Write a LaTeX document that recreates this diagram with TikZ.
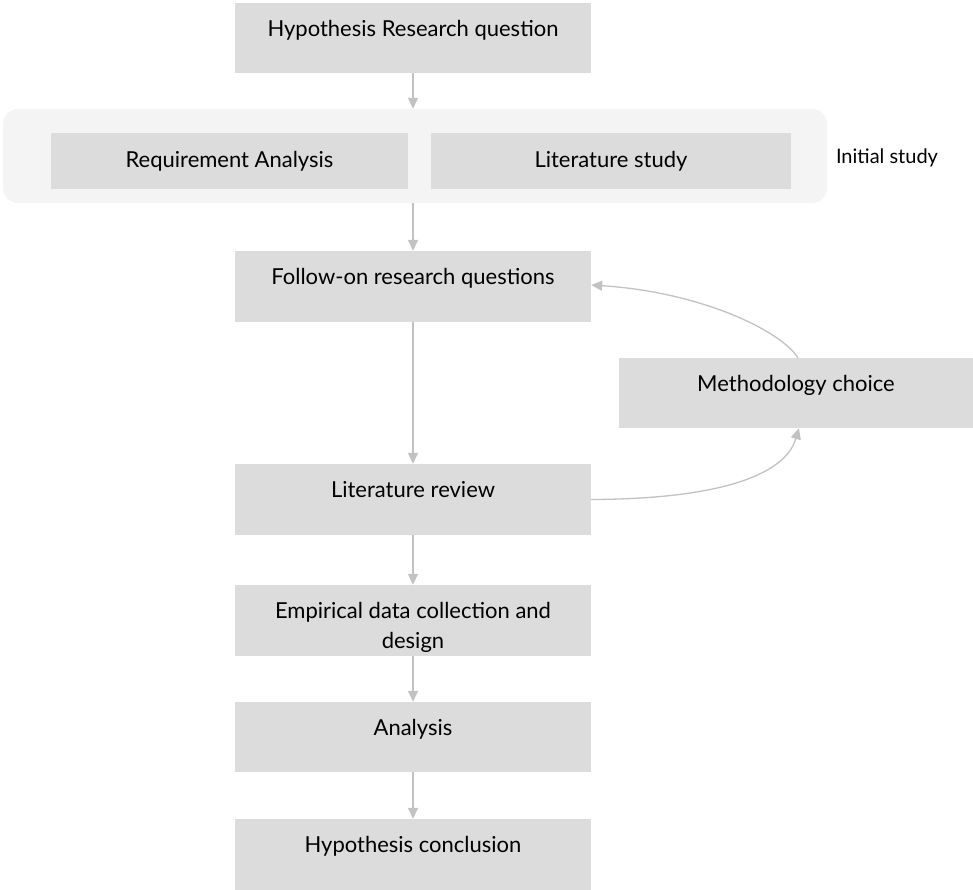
\documentclass[tikz,border=0pt]{standalone}
\usepackage{fontspec}
\setmainfont{Lato}
\usetikzlibrary{arrows.meta,calc}
\definecolor{boxgray}{HTML}{DCDCDC}
\definecolor{contgray}{HTML}{F4F4F4}
\definecolor{arrgray}{HTML}{C2C2C2}
\begin{document}
\begin{tikzpicture}[x=1pt,y=-1pt,
  box/.style={fill=boxgray, draw=none, inner sep=0pt, minimum width=356pt, minimum height=71pt},
  lbl/.style={font=\fontsize{22}{30}\selectfont, align=center, text=black, inner sep=0pt},
  toplbl/.style={label={[lbl,anchor=base,yshift=-34pt]north:#1}},
  conn/.style={draw=arrgray, line width=1.3pt, -{Triangle[width=10pt,length=11pt]}}]
\path[use as bounding box, fill=white] (0,0) rectangle (973,890);
% container
\node[fill=contgray, rounded corners=15pt, minimum width=824pt, minimum height=94pt, inner sep=0pt] (cont) at (415,156) {};
\node[box, minimum width=357pt, minimum height=56pt, lbl] (req) at (229.5,161) {Requirement Analysis};
\node[box, minimum width=360pt, minimum height=56pt, lbl] (lits) at (611,161) {Literature study};
\node[lbl, font=\fontsize{20}{24}\selectfont, anchor=base] (init) at (887,164) {Initial study};
% main column
\node[box, minimum height=70pt, toplbl={Hypothesis Research question}] (hrq) at (413,38) {};
\node[box, toplbl={Follow-on research questions}] (fq) at (413,286.5) {};
\node[box, minimum width=354pt, minimum height=70pt, toplbl={Methodology choice}] (meth) at (796,393) {};
\node[box, toplbl={Literature review}] (lr) at (413,499.5) {};
\node[box, label={[lbl,anchor=base,yshift=-64pt]north:{Empirical data collection and\\design}}] (emp) at (413,620.5) {};
\node[box, minimum height=70pt, toplbl={Analysis}] (ana) at (413,737) {};
\node[box, toplbl={Hypothesis conclusion}] (hc) at (413,854.5) {};
% connectors
\draw[conn] (hrq.south) -- (hrq.south |- cont.north);
\draw[conn] (fq.north |- cont.south) -- (fq.north);
\draw[conn] (fq.south) -- (lr.north);
\draw[conn] (lr.south) -- (emp.north);
\draw[conn] (emp.south) -- (ana.north);
\draw[conn] (ana.south) -- (hc.north);
\draw[conn] ([xshift=2pt]meth.north) .. controls (780,330) and (700,292) .. ([yshift=1.5pt]fq.east);
\draw[conn] (lr.east) .. controls (720,499) and (785,475) .. ([xshift=3pt]meth.south);
\end{tikzpicture}
\end{document}
